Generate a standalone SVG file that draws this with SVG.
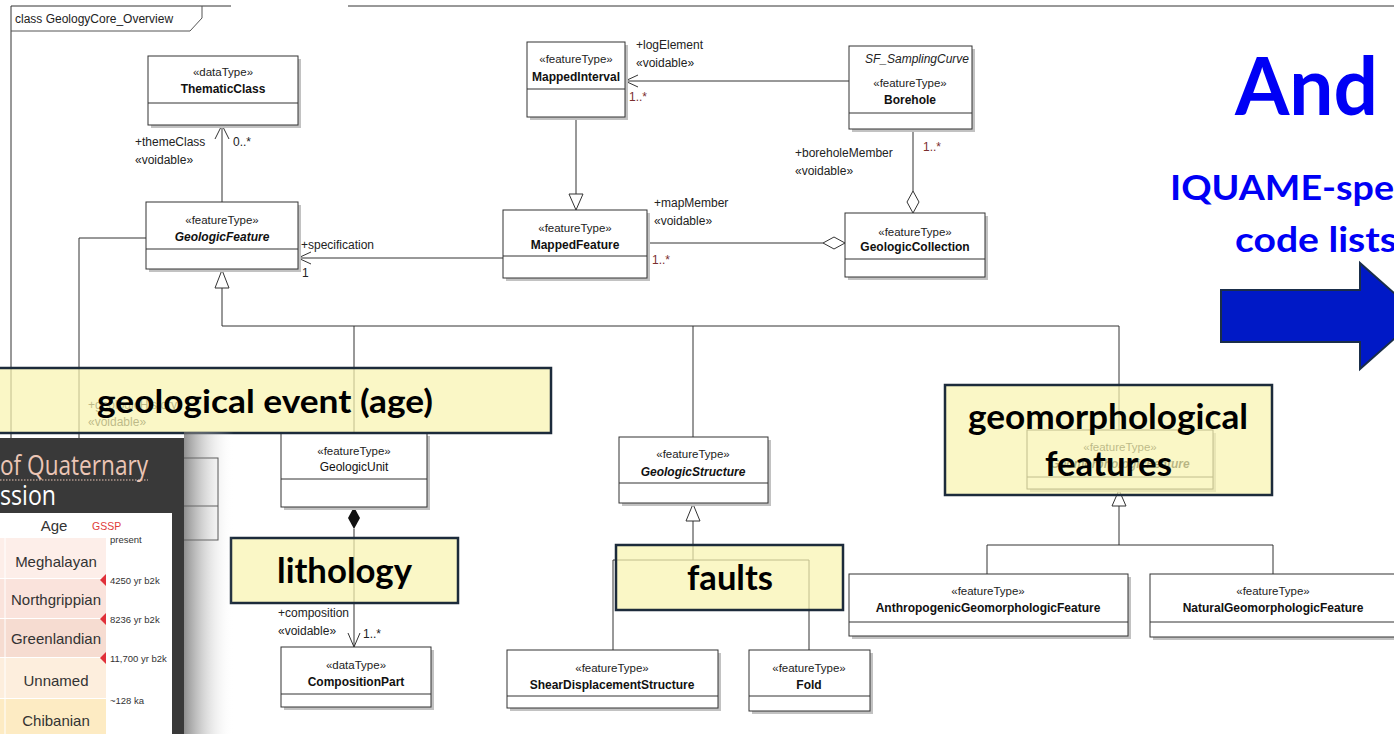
<svg xmlns="http://www.w3.org/2000/svg" width="1394" height="734" viewBox="0 0 1394 734">
<style>
.b{fill:#fff;stroke:#333;stroke-width:1}
.sh{fill:#c2c2c2}
.ln{stroke:#333;stroke-width:1;fill:none}
.st{font-family:"Liberation Sans",Arial,sans-serif;font-size:11.5px;text-anchor:middle;fill:#222}
.nm{font-family:"Liberation Sans",Arial,sans-serif;font-size:12px;font-weight:bold;text-anchor:middle;fill:#111}
.rg{font-weight:normal}
.it{font-style:italic}
.lb{font-family:"Liberation Sans",Arial,sans-serif;font-size:12px;fill:#222}
.mu{fill:#7a2e2e}
.yb{fill:#f8f4b0;fill-opacity:0.72;stroke:#1c2b3b;stroke-width:2.5}
.yt{font-family:Lato,"Open Sans",sans-serif;font-weight:bold;fill:#000}
.bl{font-family:Lato,"Open Sans",sans-serif;font-weight:bold;fill:#0000f5}
.tb{font-family:"Liberation Sans",Arial,sans-serif;font-size:15px;text-anchor:middle;fill:#333}
.sm{font-family:"Liberation Sans",Arial,sans-serif;font-size:9.5px;fill:#333}
.mk{fill:#e0303a}
</style>
<defs>
<linearGradient id="shg" x1="0" y1="0" x2="1" y2="0">
<stop offset="0" stop-color="#6a6a6a" stop-opacity="0.75"/>
<stop offset="1" stop-color="#ffffff" stop-opacity="0"/>
</linearGradient>
</defs>
<rect width="1394" height="734" fill="#fff"/>

<!-- frame -->
<g id="frame">
<path class="ln" d="M11,6 H231 M348,6 H1394 M11,6 V460" stroke="#111" stroke-width="1.3"/>
<path d="M11,31 H190 L202,18 V6" fill="none" stroke="#555" stroke-width="1"/>
<text x="15" y="23" class="lb" style="font-size:12px" fill="#111">class GeologyCore_Overview</text>
</g>

<!-- connectors -->
<g id="connectors">
<!-- themeClass -->
<path class="ln" d="M222,125 V202 M215,139 L222,125 L229,139"/>
<text x="135" y="146" class="lb">+themeClass</text>
<text x="135" y="164" class="lb">«voidable»</text>
<text x="233" y="146" class="lb">0..*</text>
<!-- left association from GeologicFeature -->
<path class="ln" d="M146,238 H79 V470"/>
<!-- generalization tree -->
<path class="ln" d="M222,288 V326 H1119 V430 M354,326 V433 M693,326 V437"/>
<path class="ln" d="M222,270 L215,288 H229 Z" fill="#fff"/>
<!-- specification -->
<path class="ln" d="M503,258 H298 M311,252 L298,258 L311,264"/>
<text x="301" y="249" class="lb">+specification</text>
<text x="302" y="277" class="lb" fill="#2b5f6e">1</text>
<!-- MappedInterval gen -->
<path class="ln" d="M576,117 V194"/>
<path class="ln" d="M576,210 L569,194 H583 Z" fill="#fff"/>
<!-- logElement -->
<path class="ln" d="M849,81 H625 M638,75 L625,81 L638,87"/>
<text x="636" y="49" class="lb">+logElement</text>
<text x="636" y="67" class="lb">«voidable»</text>
<text x="629" y="101" class="lb mu">1..*</text>
<!-- mapMember -->
<path class="ln" d="M647,243 H823"/>
<path class="ln" d="M823,243 L834,237 L845,243 L834,249 Z" fill="#fff"/>
<text x="654" y="207" class="lb">+mapMember</text>
<text x="654" y="225" class="lb">«voidable»</text>
<text x="652" y="264" class="lb mu">1..*</text>
<!-- boreholeMember -->
<path class="ln" d="M913,129 V191"/>
<path class="ln" d="M913,191 L919,202 L913,213 L907,202 Z" fill="#fff"/>
<text x="795" y="157" class="lb">+boreholeMember</text>
<text x="795" y="175" class="lb">«voidable»</text>
<text x="923" y="151" class="lb mu">1..*</text>
<!-- composition -->
<path d="M354,507 L360,518 L354,529 L348,518 Z" fill="#111"/>
<path class="ln" d="M354,529 V647 M348,633 L354,647 L360,633"/>
<text x="278" y="617" class="lb">+composition</text>
<text x="278" y="635" class="lb">«voidable»</text>
<text x="363" y="638" class="lb">1..*</text>
<!-- GeologicStructure gen -->
<path class="ln" d="M693,521 V560 M613,560 H809 M613,560 V650 M809,560 V650"/>
<path class="ln" d="M693,504 L686,521 H700 Z" fill="#fff"/>
<!-- Geomorph gen -->
<path class="ln" d="M1119,506 V545 M987,545 H1273 M987,545 V574 M1273,545 V574"/>
<path class="ln" d="M1119,490 L1112,506 H1126 Z" fill="#fff"/>
</g>

<!-- nodes -->
<g id="ThematicClass">
<rect class="sh" x="151" y="59" width="150" height="69"/>
<rect class="b" x="148" y="56" width="150" height="69"/>
<path class="ln" d="M148,103 H298"/>
<text x="223" y="76" class="st">«dataType»</text>
<text x="223" y="93" class="nm">ThematicClass</text>
</g>
<g id="GeologicFeature">
<rect class="sh" x="149" y="205" width="152" height="67"/>
<rect class="b" x="146" y="202" width="152" height="67"/>
<path class="ln" d="M146,249 H298"/>
<text x="222" y="224" class="st">«featureType»</text>
<text x="222" y="241" class="nm it">GeologicFeature</text>
</g>
<g id="MappedInterval">
<rect class="sh" x="530" y="45" width="98" height="75"/>
<rect class="b" x="527" y="42" width="98" height="75"/>
<path class="ln" d="M527,89 H625"/>
<text x="576" y="63" class="st">«featureType»</text>
<text x="576" y="81" class="nm">MappedInterval</text>
</g>
<g id="Borehole">
<rect class="sh" x="852" y="49" width="123" height="83"/>
<rect class="b" x="849" y="46" width="123" height="83"/>
<path class="ln" d="M849,113 H972"/>
<text x="969" y="63" class="lb it" text-anchor="end">SF_SamplingCurve</text>
<text x="910" y="87" class="st">«featureType»</text>
<text x="910" y="104" class="nm">Borehole</text>
</g>
<g id="MappedFeature">
<rect class="sh" x="506" y="213" width="144" height="68"/>
<rect class="b" x="503" y="210" width="144" height="68"/>
<path class="ln" d="M503,256 H647"/>
<text x="575" y="232" class="st">«featureType»</text>
<text x="575" y="249" class="nm">MappedFeature</text>
</g>
<g id="GeologicCollection">
<rect class="sh" x="848" y="216" width="140" height="64"/>
<rect class="b" x="845" y="213" width="140" height="64"/>
<path class="ln" d="M845,259 H985"/>
<text x="915" y="236" class="st">«featureType»</text>
<text x="915" y="251" class="nm">GeologicCollection</text>
</g>
<g id="GeologicUnit">
<rect class="sh" x="284" y="436" width="146" height="74"/>
<rect class="b" x="281" y="433" width="146" height="74"/>
<path class="ln" d="M281,479 H427"/>
<text x="354" y="455" class="st">«featureType»</text>
<text x="354" y="471" class="nm rg">GeologicUnit</text>
</g>
<g id="CompositionPart">
<rect class="sh" x="284" y="650" width="150" height="60"/>
<rect class="b" x="281" y="647" width="150" height="60"/>
<path class="ln" d="M281,694 H431"/>
<text x="356" y="669" class="st">«dataType»</text>
<text x="356" y="686" class="nm">CompositionPart</text>
</g>
<g id="GeologicStructure">
<rect class="sh" x="622" y="440" width="149" height="66"/>
<rect class="b" x="619" y="437" width="149" height="66"/>
<path class="ln" d="M619,483 H768"/>
<text x="693" y="458" class="st">«featureType»</text>
<text x="693" y="476" class="nm it">GeologicStructure</text>
</g>
<g id="ShearDisplacementStructure">
<rect class="sh" x="510" y="653" width="211" height="58"/>
<rect class="b" x="507" y="650" width="211" height="58"/>
<path class="ln" d="M507,696 H718"/>
<text x="612" y="672" class="st">«featureType»</text>
<text x="612" y="689" class="nm">ShearDisplacementStructure</text>
</g>
<g id="Fold">
<rect class="sh" x="752" y="653" width="121" height="61"/>
<rect class="b" x="749" y="650" width="121" height="61"/>
<path class="ln" d="M749,696 H870"/>
<text x="809" y="672" class="st">«featureType»</text>
<text x="809" y="689" class="nm">Fold</text>
</g>
<g id="AnthropogenicGeomorphologicFeature">
<rect class="sh" x="852" y="577" width="279" height="62"/>
<rect class="b" x="849" y="574" width="279" height="62"/>
<path class="ln" d="M849,622 H1128"/>
<text x="988" y="595" class="st">«featureType»</text>
<text x="988" y="612" class="nm rg" style="font-weight:600">AnthropogenicGeomorphologicFeature</text>
</g>
<g id="NaturalGeomorphologicFeature">
<rect class="sh" x="1153" y="577" width="250" height="63"/>
<rect class="b" x="1150" y="574" width="250" height="63"/>
<path class="ln" d="M1150,622 H1400"/>
<text x="1273" y="595" class="st">«featureType»</text>
<text x="1273" y="612" class="nm rg" style="font-weight:600">NaturalGeomorphologicFeature</text>
</g>
<g id="GeomorphologicFeature">
<rect class="sh" x="1030" y="433" width="186" height="59"/>
<rect class="b" x="1027" y="430" width="186" height="59"/>
<path class="ln" d="M1027,477 H1213"/>
<text x="1120" y="451" class="st">«featureType»</text>
<text x="1120" y="468" class="nm it">GeomorphologicFeature</text>
</g>
<g id="geologicHistory-label">
<text x="88" y="409" class="lb">+geologicHistory</text>
<text x="88" y="426" class="lb">«voidable»</text>
</g>

<!-- highlight boxes -->
<g id="hl-event">
<rect class="yb" x="-3" y="368" width="554" height="65"/>
<text x="97" y="413" class="yt" font-size="33" textLength="336" lengthAdjust="spacingAndGlyphs">geological event (age)</text>
</g>
<g id="hl-lithology">
<rect class="yb" x="231" y="538" width="227" height="65"/>
<text x="277" y="583" class="yt" font-size="34" textLength="135" lengthAdjust="spacingAndGlyphs">lithology</text>
</g>
<g id="hl-faults">
<rect class="yb" x="616" y="545" width="227" height="65"/>
<text x="687" y="590" class="yt" font-size="34" textLength="86" lengthAdjust="spacingAndGlyphs">faults</text>
</g>
<g id="hl-geomorph">
<rect class="yb" x="945" y="385" width="327" height="110"/>
<text x="968" y="429" class="yt" font-size="34" textLength="280" lengthAdjust="spacingAndGlyphs">geomorphological</text>
<text x="1045" y="476" class="yt" font-size="34" textLength="127" lengthAdjust="spacingAndGlyphs">features</text>
</g>

<!-- right side title and arrow -->
<g id="title">
<text x="1235" y="115" class="bl" font-size="80" textLength="143" lengthAdjust="spacingAndGlyphs">And</text>
<text x="1170" y="200" class="bl" font-size="35" textLength="224" lengthAdjust="spacingAndGlyphs">IQUAME-spe</text>
<text x="1235" y="252" class="bl" font-size="35" textLength="162" lengthAdjust="spacingAndGlyphs">code lists</text>
</g>
<g id="big-arrow">
<polygon points="1221,290 1360,290 1360,263 1420,316 1360,369 1360,342 1221,342" fill="#0019c6" stroke="#1a2e4a" stroke-width="2"/>
</g>

<!-- left overlay picture -->
<g id="hidden-box">
<rect class="b" x="120" y="458" width="98" height="82"/>
<path class="ln" d="M120,506 H218"/>
</g>
<rect x="184" y="432" width="50" height="302" fill="url(#shg)"/>
<g id="quaternary-panel">
<rect x="0" y="438" width="184" height="296" fill="#393939"/>
<text x="0" y="475" font-family="'Open Sans','Noto Sans',sans-serif" font-size="28" fill="#ecc6b6" textLength="148" lengthAdjust="spacingAndGlyphs">of Quaternary</text>
<path d="M0,480 H148" stroke="#ecc6b6" stroke-width="1.2" stroke-dasharray="1.5,1.5"/>
<text x="0" y="505" font-family="'Open Sans','Noto Sans',sans-serif" font-size="28" fill="#ffffff" textLength="56" lengthAdjust="spacingAndGlyphs">ssion</text>
<rect x="0" y="513" width="172" height="221" fill="#ffffff"/>
<rect x="0" y="538" width="106" height="40" fill="#fdeee9"/>
<rect x="0" y="579" width="106" height="39" fill="#fae3dc"/>
<rect x="0" y="619" width="106" height="38" fill="#f6dcd1"/>
<rect x="0" y="658" width="106" height="40" fill="#fdeedd"/>
<rect x="0" y="699" width="106" height="35" fill="#fdebc3"/>
<path d="M5,538 V734" stroke="#fff" stroke-width="1"/>
<text x="54" y="531" class="tb" font-size="14">Age</text>
<text x="92" y="530" font-family="'Liberation Sans',Arial,sans-serif" font-size="10.5" fill="#e03a3a">GSSP</text>
<text x="110" y="543" class="sm">present</text>
<text x="56" y="567" class="tb">Meghalayan</text>
<text x="56" y="605" class="tb">Northgrippian</text>
<text x="56" y="644" class="tb">Greenlandian</text>
<text x="56" y="686" class="tb" fill="#8a8a8a">Unnamed</text>
<text x="56" y="726" class="tb">Chibanian</text>
<polygon class="mk" points="106,574 100,580 106,586"/>
<polygon class="mk" points="106,613 100,619 106,625"/>
<polygon class="mk" points="106,652 100,658 106,664"/>
<text x="110" y="584" class="sm">4250 yr b2k</text>
<text x="110" y="623" class="sm">8236 yr b2k</text>
<text x="110" y="662" class="sm">11,700 yr b2k</text>
<text x="110" y="704" class="sm">~128 ka</text>
</g>
</svg>
